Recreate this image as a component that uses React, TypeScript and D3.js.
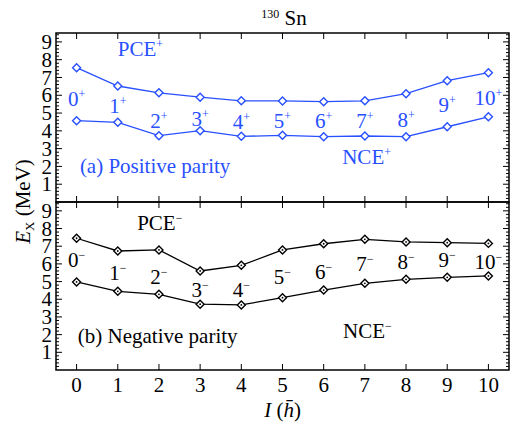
import React, { useRef, useEffect } from "react";
import * as d3 from "d3";

// spin I, excitation energies in MeV
const spins = [0, 1, 2, 3, 4, 5, 6, 7, 8, 9, 10];
const pcePos = [7.55, 6.52, 6.14, 5.89, 5.69, 5.68, 5.64, 5.69, 6.09, 6.82, 7.27];
const ncePos = [4.57, 4.48, 3.73, 4.01, 3.69, 3.75, 3.67, 3.71, 3.67, 4.23, 4.79];
const pceNeg = [7.45, 6.73, 6.79, 5.6, 5.92, 6.79, 7.14, 7.39, 7.24, 7.2, 7.16];
const nceNeg = [4.98, 4.45, 4.28, 3.72, 3.68, 4.09, 4.52, 4.9, 5.13, 5.24, 5.32];
// where the I^pi labels sit (in MeV)
const labelPosE = [5.82, 5.4, 4.55, 4.67, 4.5, 4.55, 4.55, 4.55, 4.61, 5.45, 5.85];
const labelNegE = [6.22, 5.49, 5.26, 4.52, 4.52, 5.26, 5.54, 5.99, 6.11, 6.22, 6.11];
const yTicks = [1, 2, 3, 4, 5, 6, 7, 8, 9];

const BLUE = "#2850ff";
const FONT = "Liberation Serif";

export default function App() {
  const ref = useRef<SVGSVGElement | null>(null);

  useEffect(() => {
    const width = 512;
    const height = 425;
    const left = 56;
    const right = 509;

    const svg = d3.select(ref.current);
    svg.selectAll("*").remove();

    const x = d3.scaleLinear().domain([-0.5, 10.5]).range([left, right]);

    const panels = [
      {
        top: 33, bottom: 202, color: BLUE, sign: "+", marker: "open",
        pce: pcePos, nce: ncePos, labelE: labelPosE,
        title: "(a) Positive parity", titleAt: [0.08, 2.02],
        pceAt: [1.0, 8.6], nceAt: [6.45, 2.53],
      },
      {
        top: 202, bottom: 370, color: "#000", sign: "\u2212", marker: "dot",
        pce: pceNeg, nce: nceNeg, labelE: labelNegE,
        title: "(b) Negative parity", titleAt: [0.03, 1.92],
        pceAt: [1.47, 8.31], nceAt: [6.47, 2.2],
      },
    ];

    panels.forEach((p) => {
      const y = d3.scaleLinear().domain([0, 9.5]).range([p.bottom, p.top]);
      const g = svg.append("g");

      // ticks
      const minor = d3.range(0.2, 9.5, 0.2).filter((v) => Math.abs(v - Math.round(v)) > 0.01);
      const tk = g.append("g").attr("stroke", "#000").attr("stroke-width", 1);
      yTicks.forEach((v) => {
        tk.append("line").attr("x1", left).attr("x2", left + 6).attr("y1", y(v)).attr("y2", y(v));
        tk.append("line").attr("x1", right).attr("x2", right - 6).attr("y1", y(v)).attr("y2", y(v));
      });
      minor.forEach((v) => {
        tk.append("line").attr("x1", left).attr("x2", left + 3).attr("y1", y(v)).attr("y2", y(v));
        tk.append("line").attr("x1", right).attr("x2", right - 3).attr("y1", y(v)).attr("y2", y(v));
      });
      spins.forEach((s) => {
        tk.append("line").attr("x1", x(s)).attr("x2", x(s)).attr("y1", p.top).attr("y2", p.top + 6);
        tk.append("line").attr("x1", x(s)).attr("x2", x(s)).attr("y1", p.bottom).attr("y2", p.bottom - 6);
      });

      // y tick labels
      g.append("g")
        .selectAll("text")
        .data(yTicks)
        .enter()
        .append("text")
        .attr("x", left - 4)
        .attr("y", (d) => y(d))
        .attr("dy", "0.34em")
        .attr("text-anchor", "end")
        .attr("font-size", 21)
        .text((d) => d);

      // lines + markers
      const line = d3
        .line<number>()
        .x((d, i) => x(spins[i]))
        .y((d) => y(d));

      [p.pce, p.nce].forEach((series) => {
        g.append("path")
          .attr("d", line(series))
          .attr("fill", "none")
          .attr("stroke", p.color)
          .attr("stroke-width", 1.3);
        const m = g.append("g");
        series.forEach((v, i) => {
          const cx = x(spins[i]);
          const cy = y(v);
          m.append("path")
            .attr("d", `M${cx},${cy - 4}L${cx + 4},${cy}L${cx},${cy + 4}L${cx - 4},${cy}Z`)
            .attr("fill", "#fff")
            .attr("stroke", p.color)
            .attr("stroke-width", 1.4);
          if (p.marker === "dot") {
            m.append("circle").attr("cx", cx).attr("cy", cy).attr("r", 0.9).attr("fill", p.color);
          }
        });
      });

      // spin-parity labels
      spins.forEach((s, i) => {
        const t = g
          .append("text")
          .attr("x", x(s))
          .attr("y", y(p.labelE[i]))
          .attr("dy", "0.34em")
          .attr("text-anchor", "middle")
          .attr("font-size", 21)
          .attr("fill", p.color);
        t.append("tspan").text(s);
        t.append("tspan").attr("font-size", 12).attr("dy", -8).text(p.sign);
      });

      // annotations
      const pce = g.append("text")
        .attr("x", x(p.pceAt[0])).attr("y", y(p.pceAt[1])).attr("dy", "0.34em")
        .attr("font-size", 21).attr("fill", p.color);
      pce.append("tspan").text("PCE");
      pce.append("tspan").attr("font-size", 12).attr("dy", -8).text(p.sign);

      const nce = g.append("text")
        .attr("x", x(p.nceAt[0])).attr("y", y(p.nceAt[1])).attr("dy", "0.34em")
        .attr("font-size", 21).attr("fill", p.color);
      nce.append("tspan").text("NCE");
      nce.append("tspan").attr("font-size", 12).attr("dy", -8).text(p.sign);

      g.append("text")
        .attr("x", x(p.titleAt[0])).attr("y", y(p.titleAt[1])).attr("dy", "0.34em")
        .attr("font-size", 21).attr("fill", p.color)
        .text(p.title);

      // frame
      g.append("rect")
        .attr("x", left).attr("y", p.top)
        .attr("width", right - left).attr("height", p.bottom - p.top)
        .attr("fill", "none").attr("stroke", "#000").attr("stroke-width", 1.5);
    });

    // x tick labels
    svg.append("g")
      .selectAll("text")
      .data(spins)
      .enter()
      .append("text")
      .attr("x", (d) => x(d))
      .attr("y", 392)
      .attr("text-anchor", "middle")
      .attr("font-size", 21)
      .text((d) => d);

    // axis titles
    const xt = svg.append("text")
      .attr("x", x(5)).attr("y", 417).attr("text-anchor", "middle").attr("font-size", 21);
    xt.append("tspan").attr("font-style", "italic").text("I");
    xt.append("tspan").text(" (");
    xt.append("tspan").attr("font-style", "italic").text("h\u0304");
    xt.append("tspan").text(")");

    const yt = svg.append("text")
      .attr("transform", `translate(30,${(33 + 370) / 2}) rotate(-90)`)
      .attr("text-anchor", "middle").attr("font-size", 21);
    yt.append("tspan").attr("font-style", "italic").text("E");
    yt.append("tspan").attr("font-size", 13).attr("dy", 4).text("X");
    yt.append("tspan").attr("dy", -4).text(" (MeV)");

    // chart title
    const tt = svg.append("text")
      .attr("x", 284).attr("y", 25).attr("text-anchor", "middle").attr("font-size", 21);
    tt.append("tspan").attr("font-size", 12).attr("dy", -7).text("130");
    tt.append("tspan").attr("dy", 7).text(" Sn");

    svg.selectAll("text").style("font-family", FONT);
    svg.attr("width", width).attr("height", height);
  }, []);

  return (
    <svg
      ref={ref}
      width={512}
      height={425}
      style={{ position: "absolute", left: 0, top: 0, background: "#fff", fontFamily: FONT }}
    />
  );
}
